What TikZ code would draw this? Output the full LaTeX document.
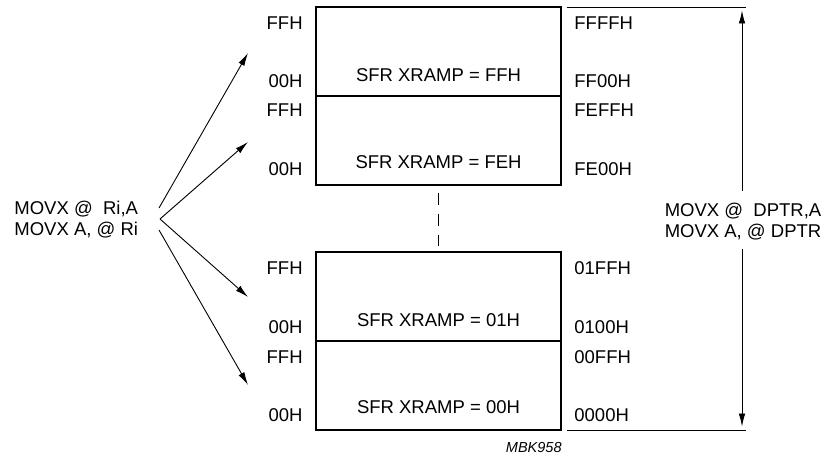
\documentclass[tikz,border=0pt]{standalone}
\usepackage{fontspec}
\setmainfont{Liberation Sans}
\usetikzlibrary{arrows.meta,positioning}

\tikzset{
  seg/.style={draw, line width=0.65pt, minimum width=122.5pt, minimum height=44.5pt, inner sep=0pt},
  lbl/.style={inner sep=0pt},
  tip/.style={line width=0.45pt, -{Latex[length=6.5pt,width=3.3pt]}},
}

\begin{document}
\begin{tikzpicture}[x=0.5pt, y=-0.5pt, font=\fontsize{9.25pt}{10.5pt}\selectfont]
			\useasboundingbox (0,0) rectangle (828,459);
			% pages of the external ram
			\node[seg] (ff) at (438.5,51.5) {};
			\node[seg] (fe) at (438.5,140.5) {};
			\node[seg] (one) at (438.5,296.5) {};
			\node[seg] (zero) at (438.5,385.5) {};
			\draw[line width=0.45pt, dash pattern=on 6pt off 4.5pt, shorten <=3.5pt, shorten >=2.5pt] (fe.south) -- (one.north);
			\node (ffsfr) at (438.5,75) {SFR XRAMP = FFH};
			\node (fesfr) at (438.5,162) {SFR XRAMP = FEH};
			\node (onesfr) at (438.5,320) {SFR XRAMP = 01H};
			\node (zerosfr) at (438.5,407) {SFR XRAMP = 00H};
			% offsets in the page
			\node[lbl, anchor=east] (ffhi) at (303,23.5) {FFH};
			\node[lbl, anchor=east] (fflo) at (303,81.5) {00H};
			\node[lbl, anchor=east] (fehi) at (303,110.5) {FFH};
			\node[lbl, anchor=east] (felo) at (303,169) {00H};
			\node[lbl, anchor=east] (onehi) at (303,268.5) {FFH};
			\node[lbl, anchor=east] (onelo) at (303,327.5) {00H};
			\node[lbl, anchor=east] (zerohi) at (303,357) {FFH};
			\node[lbl, anchor=east] (zerolo) at (303,415.5) {00H};
			% full addresses
			\node[lbl, anchor=west] (ffaddrhi) at (574,23.5) {FFFFH};
			\node[lbl, anchor=west] (ffaddrlo) at (574,81.5) {FF00H};
			\node[lbl, anchor=west] (feaddrhi) at (574,110.5) {FEFFH};
			\node[lbl, anchor=west] (feaddrlo) at (574,169) {FE00H};
			\node[lbl, anchor=west] (oneaddrhi) at (574,268.5) {01FFH};
			\node[lbl, anchor=west] (oneaddrlo) at (574,327.5) {0100H};
			\node[lbl, anchor=west] (zeroaddrhi) at (574,357) {00FFH};
			\node[lbl, anchor=west] (zeroaddrlo) at (574,415.5) {0000H};
			\draw[line width=0.45pt] (567,7) -- (746,7);
			\draw[line width=0.45pt] (567,430) -- (746,430);
			% MOVX with Ri
			\node[lbl, align=left, anchor=west] (movxri) at (14,219.5) {MOVX @\ \ Ri,A\\MOVX A, @ Ri};
			\coordinate (fanup) at (159,208);
			\coordinate (fan) at (160,219);
			\coordinate (fandown) at (159,230);
			\coordinate (toff) at (248,53);
			\coordinate (tofe) at (248,142);
			\coordinate (toone) at (248,297);
			\coordinate (tozero) at (248,385);
			\draw[tip] (fanup) -- (toff);
			\draw[tip] (fan) -- (tofe);
			\draw[tip] (fan) -- (toone);
			\draw[tip] (fandown) -- (tozero);
			% MOVX with DPTR
			\node[lbl, align=center] (movxdptr) at (743,222) {MOVX @\ \ DPTR,A\\MOVX A, @ DPTR};
			\coordinate (dup) at (742,191);
			\coordinate (ddown) at (742,249);
			\coordinate (dtop) at (742,10.5);
			\coordinate (dbot) at (742,426.5);
			\draw[tip] (dup) -- (dtop);
			\draw[tip] (ddown) -- (dbot);
			\node[lbl, anchor=east, font=\fontsize{7.25pt}{8pt}\selectfont\itshape] (mbk) at (562,448) {MBK958};
		\end{tikzpicture}
\end{document}
